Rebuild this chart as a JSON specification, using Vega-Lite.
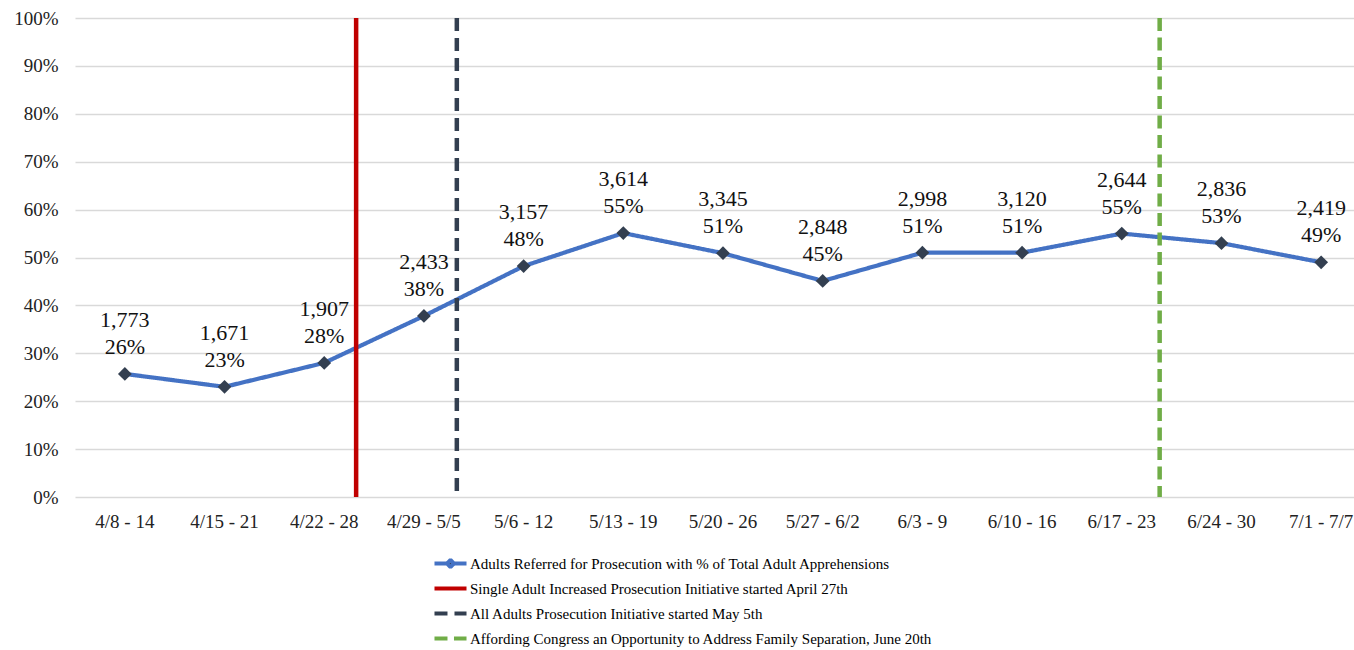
{
  "$schema": "https://vega.github.io/schema/vega-lite/v6.json",
  "description": "Adults referred for prosecution as % of total adult apprehensions, weekly, April to July.",
  "autosize": {"type": "none"},
  "padding": {"left": 75, "top": 18, "right": 0, "bottom": 153},
  "width": 1296,
  "height": 479,
  "background": "white",
  "config": {
    "view": {"stroke": null},
    "font": "Liberation Serif",
    "axis": {
      "labelFont": "Liberation Serif",
      "labelFontSize": 19,
      "labelColor": "#222222",
      "ticks": false,
      "domain": false,
      "title": null
    },
    "legend": {
      "labelFont": "Liberation Serif",
      "labelFontSize": 15,
      "labelColor": "#000000",
      "labelLimit": 0
    }
  },
  "datasets": {
    "weeks": [
      {"week": "4/8 - 14", "pct": 0.257, "count": 1773},
      {"week": "4/15 - 21", "pct": 0.23, "count": 1671},
      {"week": "4/22 - 28", "pct": 0.28, "count": 1907},
      {"week": "4/29 - 5/5", "pct": 0.378, "count": 2433},
      {"week": "5/6 - 12", "pct": 0.482, "count": 3157},
      {"week": "5/13 - 19", "pct": 0.551, "count": 3614},
      {"week": "5/20 - 26", "pct": 0.509, "count": 3345},
      {"week": "5/27 - 6/2", "pct": 0.451, "count": 2848},
      {"week": "6/3 - 9", "pct": 0.51, "count": 2998},
      {"week": "6/10 - 16", "pct": 0.51, "count": 3120},
      {"week": "6/17 - 23", "pct": 0.55, "count": 2644},
      {"week": "6/24 - 30", "pct": 0.53, "count": 2836},
      {"week": "7/1 - 7/7", "pct": 0.49, "count": 2419}
    ],
    "events": [
      {"week": "4/22 - 28", "series": "Single Adult Increased Prosecution Initiative started April 27th"},
      {"week": "4/29 - 5/5", "series": "All Adults Prosecution Initiative started May 5th"},
      {"week": "6/17 - 23", "series": "Affording Congress an Opportunity to Address Family Separation, June 20th"}
    ]
  },
  "encoding": {
    "x": {
      "field": "week",
      "type": "nominal",
      "sort": null,
      "scale": {
        "domain": ["4/8 - 14", "4/15 - 21", "4/22 - 28", "4/29 - 5/5", "5/6 - 12", "5/13 - 19", "5/20 - 26", "5/27 - 6/2", "6/3 - 9", "6/10 - 16", "6/17 - 23", "6/24 - 30", "7/1 - 7/7"],
        "type": "band",
        "paddingInner": 0,
        "paddingOuter": 0
      },
      "axis": {"labelAngle": 0, "labelPadding": 15, "grid": false}
    }
  },
  "layer": [
    {
      "data": {"name": "weeks"},
      "mark": {"type": "line", "strokeWidth": 4.2},
      "encoding": {
        "y": {
          "field": "pct",
          "type": "quantitative",
          "scale": {"domain": [0, 1], "nice": false},
          "axis": {
            "values": [0, 0.1, 0.2, 0.3, 0.4, 0.5, 0.6, 0.7, 0.8, 0.9, 1],
            "format": ".0%",
            "labelPadding": 17,
            "grid": true,
            "gridColor": "#d9d9d9",
            "gridWidth": 1.3
          }
        },
        "color": {
          "datum": "Adults Referred for Prosecution with % of Total Adult Apprehensions",
          "type": "nominal",
          "title": null,
          "scale": {
            "domain": [
              "Adults Referred for Prosecution with % of Total Adult Apprehensions",
              "Single Adult Increased Prosecution Initiative started April 27th",
              "All Adults Prosecution Initiative started May 5th",
              "Affording Congress an Opportunity to Address Family Separation, June 20th"
            ],
            "range": ["#4472C4", "#C00000", "#333F50", "#70AD47"]
          },
          "legend": {
            "title": null,
            "orient": "none",
            "legendX": 367,
            "legendY": 537,
            "direction": "vertical",
            "symbolType": "M-2.5,0H2.5",
            "symbolSize": 164,
            "symbolStrokeWidth": 4,
            "labelOffset": 11,
            "rowPadding": 8,
            "encode": {
              "symbols": {
                "update": {
                  "shape": {"signal": "datum.index === 0 ? 'M-2.5,0H-0.5M0.5,0H2.5M0,-0.55L0.55,0L0,0.55L-0.55,0Z' : 'M-2.5,0H2.5'"},
                  "fill": {"signal": "datum.index === 0 ? '#333F50' : 'transparent'"},
                  "strokeJoin": {"value": "bevel"}
                }
              }
            }
          }
        },
        "strokeDash": {
          "datum": "Adults Referred for Prosecution with % of Total Adult Apprehensions",
          "type": "nominal",
          "title": null,
          "scale": {
            "domain": [
              "Adults Referred for Prosecution with % of Total Adult Apprehensions",
              "Single Adult Increased Prosecution Initiative started April 27th",
              "All Adults Prosecution Initiative started May 5th",
              "Affording Congress an Opportunity to Address Family Separation, June 20th"
            ],
            "range": [[1, 0], [1, 0], [13, 7], [13, 6.5]]
          },
          "legend": null
        }
      }
    },
    {
      "data": {"name": "events"},
      "transform": [{"filter": "datum.week === '4/22 - 28'"}],
      "mark": {"type": "rule", "strokeWidth": 4.5},
      "encoding": {
        "x": {"field": "week", "type": "nominal", "sort": null, "bandPosition": 0.82},
        "color": {"field": "series", "type": "nominal", "title": null},
        "strokeDash": {"field": "series", "type": "nominal", "title": null}
      }
    },
    {
      "data": {"name": "events"},
      "transform": [{"filter": "datum.week === '4/29 - 5/5'"}],
      "mark": {"type": "rule", "strokeWidth": 4.5},
      "encoding": {
        "x": {"field": "week", "type": "nominal", "sort": null, "bandPosition": 0.83},
        "color": {"field": "series", "type": "nominal", "title": null},
        "strokeDash": {"field": "series", "type": "nominal", "title": null}
      }
    },
    {
      "data": {"name": "events"},
      "transform": [{"filter": "datum.week === '6/17 - 23'"}],
      "mark": {"type": "rule", "strokeWidth": 4.5},
      "encoding": {
        "x": {"field": "week", "type": "nominal", "sort": null, "bandPosition": 0.88},
        "color": {"field": "series", "type": "nominal", "title": null},
        "strokeDash": {"field": "series", "type": "nominal", "title": null}
      }
    },
    {
      "data": {"name": "weeks"},
      "mark": {"type": "point", "shape": "diamond", "filled": true, "size": 190, "color": "#333F50", "opacity": 1},
      "encoding": {
        "y": {"field": "pct", "type": "quantitative"}
      }
    },
    {
      "data": {"name": "weeks"},
      "mark": {"type": "text", "fontSize": 22, "color": "#111111", "baseline": "middle", "dy": -27},
      "encoding": {
        "y": {"field": "pct", "type": "quantitative"},
        "text": {"field": "pct", "type": "quantitative", "format": ".0%"}
      }
    },
    {
      "data": {"name": "weeks"},
      "mark": {"type": "text", "fontSize": 22, "color": "#111111", "baseline": "middle", "dy": -54},
      "encoding": {
        "y": {"field": "pct", "type": "quantitative"},
        "text": {"field": "count", "type": "quantitative", "format": ","}
      }
    }
  ]
}
